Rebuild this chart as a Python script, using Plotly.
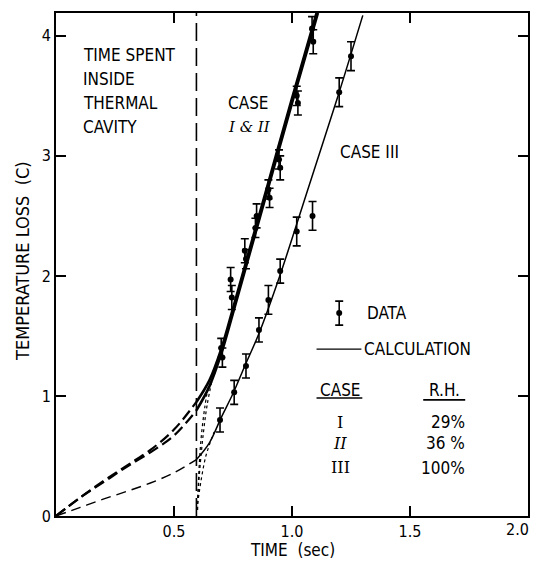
import plotly.graph_objects as go

# ---------------- data ----------------
# Calculated curves: dashed part inside the thermal cavity (0 - 0.6 s)
cav_t = [0.0, 0.1, 0.2, 0.3, 0.4, 0.5, 0.595]
cav_case1 = [0.0, 0.15, 0.29, 0.42, 0.55, 0.72, 0.95]
cav_case2 = [0.0, 0.15, 0.28, 0.41, 0.53, 0.67, 0.88]
cav_case3 = [0.0, 0.07, 0.14, 0.205, 0.275, 0.36, 0.47]

# Calculated curves after leaving the cavity (solid)
c1_t = [0.595, 0.65, 0.70, 0.75, 0.80, 0.90, 1.00, 1.104]
c1_y = [0.95, 1.13, 1.39, 1.73, 2.08, 2.78, 3.48, 4.19]
c2_t = [0.595, 0.65, 0.70, 0.75, 0.80, 0.90, 1.00, 1.110]
c2_y = [0.88, 1.08, 1.35, 1.69, 2.04, 2.74, 3.44, 4.19]
c3_t = [0.595, 0.65, 0.70, 0.75, 0.80, 0.86, 0.95, 1.00, 1.10, 1.20, 1.30]
c3_y = [0.47, 0.61, 0.82, 1.02, 1.25, 1.52, 2.01, 2.31, 2.92, 3.53, 4.17]

# Dotted transition curves
d1_t = [0.600, 0.605, 0.615, 0.630, 0.645]
d1_y = [0.05, 0.35, 0.65, 0.90, 1.08]
d2_t = [0.600, 0.612, 0.625, 0.640, 0.660]
d2_y = [0.15, 0.45, 0.70, 0.92, 1.12]
d3_t = [0.600, 0.615, 0.635, 0.655, 0.670]
d3_y = [0.10, 0.30, 0.50, 0.62, 0.70]

# Measured data, cases I & II
d12_t = [0.70, 0.705, 0.74, 0.745, 0.80, 0.805, 0.845, 0.85, 0.90, 0.905, 0.945, 0.95, 1.02, 1.025, 1.085, 1.09]
d12_y = [1.40, 1.32, 1.97, 1.82, 2.21, 2.14, 2.40, 2.50, 2.72, 2.65, 2.97, 2.90, 3.50, 3.44, 4.06, 3.95]
d12_e = [0.08, 0.08, 0.10, 0.10, 0.10, 0.08, 0.08, 0.10, 0.08, 0.08, 0.08, 0.10, 0.08, 0.10, 0.10, 0.10]

# Measured data, case III
d3d_t = [0.695, 0.755, 0.805, 0.86, 0.90, 0.95, 1.02, 1.087, 1.20, 1.25]
d3d_y = [0.80, 1.03, 1.25, 1.55, 1.80, 2.04, 2.37, 2.50, 3.53, 3.83]
d3d_e = [0.10, 0.10, 0.10, 0.10, 0.12, 0.10, 0.12, 0.12, 0.12, 0.12]

cavity_exit = 0.595
x_ticks = [0, 0.5, 1.0, 1.5, 2.0]
x_ticktext = ["", "0.5", "1.0", "1.5", ""]   # "2.0" is placed separately (right edge)
x_last_label = "2.0"
y_ticks = [0, 1, 2, 3, 4]
y_ticktext = ["0", "1", "2", "3", "4"]

cases = ["I", "<i>II</i>", "III"]
rh = ["29%", "36 %", "100%"]

# --------------- figure ---------------
FONT = "DejaVu Sans Condensed, Liberation Sans Narrow, sans-serif"
SERIF = "DejaVu Serif, Liberation Serif, serif"
fig = go.Figure()

# vertical dashed line (leaving cavity)
fig.add_trace(go.Scatter(x=[cavity_exit, cavity_exit], y=[0, 4.19], mode="lines",
                         line=dict(color="black", width=1.6, dash="18px,7px"), hoverinfo="skip"))

# dashed curves inside cavity
fig.add_trace(go.Scatter(x=cav_t, y=cav_case1, mode="lines",
                         line=dict(color="black", width=2.2, dash="11px,5px", shape="spline")))
fig.add_trace(go.Scatter(x=cav_t, y=cav_case2, mode="lines",
                         line=dict(color="black", width=2.2, dash="11px,5px", shape="spline")))
fig.add_trace(go.Scatter(x=cav_t, y=cav_case3, mode="lines",
                         line=dict(color="black", width=1.4, dash="10px,6px", shape="spline")))

# dotted transitions
for tt, yy in [(d1_t, d1_y), (d2_t, d2_y), (d3_t, d3_y)]:
    fig.add_trace(go.Scatter(x=tt, y=yy, mode="lines",
                             line=dict(color="black", width=1.2, dash="dot", shape="spline")))

# solid calculation curves
fig.add_trace(go.Scatter(x=c1_t, y=c1_y, mode="lines",
                         line=dict(color="black", width=2.6, shape="spline")))
fig.add_trace(go.Scatter(x=c2_t, y=c2_y, mode="lines",
                         line=dict(color="black", width=2.6, shape="spline")))
fig.add_trace(go.Scatter(x=c3_t, y=c3_y, mode="lines",
                         line=dict(color="black", width=1.5, shape="spline")))

# data with error bars
for tt, yy, ee in [(d12_t, d12_y, d12_e), (d3d_t, d3d_y, d3d_e)]:
    fig.add_trace(go.Scatter(x=tt, y=yy, mode="markers",
                             marker=dict(color="black", size=6),
                             error_y=dict(type="data", array=ee, visible=True,
                                          color="black", thickness=1.6, width=4)))

# legend: data symbol and calculation line
leg_x, leg_data_y, leg_calc_y = 1.20, 1.69, 1.39
fig.add_trace(go.Scatter(x=[leg_x], y=[leg_data_y], mode="markers",
                         marker=dict(color="black", size=6),
                         error_y=dict(type="data", array=[0.10], visible=True,
                                      color="black", thickness=1.6, width=4)))
fig.add_trace(go.Scatter(x=[1.104, 1.294], y=[leg_calc_y, leg_calc_y], mode="lines",
                         line=dict(color="black", width=1.4)))

# underlines for the small table
fig.add_shape(type="line", x0=1.104, x1=1.298, y0=0.983, y1=0.983,
              line=dict(color="black", width=1.6))
fig.add_shape(type="line", x0=1.556, x1=1.734, y0=0.967, y1=0.967,
              line=dict(color="black", width=1.6))

TXT = dict(family=FONT, size=17, color="black")


def ann(x, y, text, xanchor="left", font=None, **kw):
    fig.add_annotation(x=x, y=y, text=text, showarrow=False, xanchor=xanchor,
                       yanchor="middle", font=font or TXT, borderpad=0, **kw)


for label, yy in zip(["TIME SPENT", "INSIDE", "THERMAL", "CAVITY"], [3.84, 3.64, 3.44, 3.24]):
    ann(0.11, yy, label)
ann(0.723, 3.44, "CASE")
ann(0.723, 3.24, "<i>I & II</i>", font=dict(family=SERIF, size=15, color="black"))
ann(1.20, 3.03, "CASE III")
ann(1.315, leg_data_y, "DATA")
ann(1.30, leg_calc_y, "CALCULATION")
ann(1.205, 1.05, "CASE", xanchor="center")
ann(1.645, 1.05, "R.H.", xanchor="center")
for c, r, yy in zip(cases, rh, [0.783, 0.608, 0.40]):
    ann(1.205, yy, c, xanchor="center", font=dict(family=SERIF, size=16, color="black"))
    ann(1.738, yy, r, xanchor="right")

# last x tick label, kept inside the visible page
fig.add_annotation(x=1.0, y=0, xref="paper", yref="paper", text=x_last_label,
                   showarrow=False, xanchor="right", yanchor="top", xshift=2, yshift=-3,
                   borderpad=0, font=dict(family=FONT, size=16, color="black"))

# axis titles
fig.add_annotation(x=0.5, y=-0.068, xref="paper", yref="paper", text="TIME  (sec)",
                   showarrow=False, font=TXT, xanchor="center", yanchor="middle")
fig.add_annotation(x=-0.07, y=0.507, xref="paper", yref="paper", text="TEMPERATURE LOSS  (C)",
                   showarrow=False, font=dict(family=FONT, size=18, color="black"),
                   textangle=-90, xanchor="center", yanchor="middle")

axis_common = dict(showgrid=False, zeroline=False, showline=True, linecolor="black",
                   linewidth=2, mirror="ticks", ticks="inside", ticklen=10, tickwidth=2,
                   tickcolor="black", automargin=False,
                   tickfont=dict(family=FONT, size=16, color="black"))
fig.update_xaxes(range=[0, 2.0], tickvals=x_ticks, ticktext=x_ticktext, **axis_common)
fig.update_yaxes(range=[0, 4.19], tickvals=y_ticks, ticktext=y_ticktext, **axis_common)

# the page body adds an 8px margin, so the figure is sized to fill the rest of the window
fig.update_layout(width=531, height=555, showlegend=False,
                  margin=dict(l=48, r=11, t=5, b=47),
                  plot_bgcolor="white", paper_bgcolor="white")

fig.write_html("out.html")
